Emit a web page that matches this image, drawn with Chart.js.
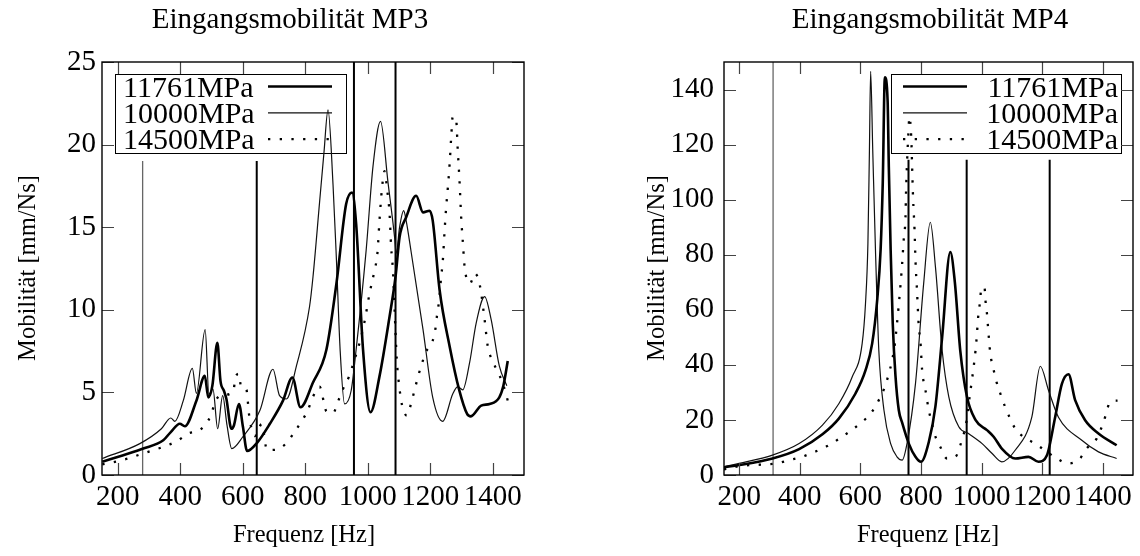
<!DOCTYPE html>
<html>
<head>
<meta charset="utf-8">
<script src="https://cdn.jsdelivr.net/npm/chart.js@4.4.0/dist/chart.umd.min.js"></script>
<style>
  html, body { margin: 0; padding: 0; background: #fff; }
  .wrap { position: relative; width: 1140px; height: 556px; }
  .panel { position: absolute; top: 0; height: 556px; }
  #mp3Box { left: 0; width: 560px; }
  #mp4Box { left: 560px; width: 580px; }
</style>
</head>
<body>
<div class="wrap">
  <div class="panel" id="mp3Box"><canvas id="mp3Chart"></canvas></div>
  <div class="panel" id="mp4Box"><canvas id="mp4Chart"></canvas></div>
</div>
<script>
// ---- data ----
const seriesLabels = ['11761MPa', '10000MPa', '14500MPa'];
const xTicks = [200, 400, 600, 800, 1000, 1200, 1400];
const mp3YTicks = [0, 5, 10, 15, 20, 25];
const mp4YTicks = [0, 20, 40, 60, 80, 100, 120, 140];

// MP3
const mp3FreqA = [151,218,282,346,370,399,415,452,479,490,503,519,529,540,548,564,572,588,601,614,646,687,729,759,785,825,868,900,931,950,963,985,1009,1038,1070,1089,1102,1123,1155,1177,1198,1208,1230,1262,1292,1318,1330,1363,1390,1421,1434,1448];
const mp3ValA  = [0.8,1.2,1.6,2.1,2.6,3.1,2.95,4.5,6.0,4.7,5.4,8.0,5.7,5.1,4.6,2.8,3.0,4.3,2.9,1.45,1.95,3.1,4.5,5.9,4.1,5.6,7.6,11.6,16.4,17.1,15.2,7.6,3.8,6.0,9.6,12.0,14.4,15.6,16.9,15.9,16.0,15.4,11.2,7.8,5.2,3.7,3.55,4.2,4.3,4.7,5.4,6.9];
const mp3FreqB = [151,271,340,370,383,410,439,452,480,492,505,520,536,550,565,600,655,697,718,740,772,814,825,846,860,873,889,900,912,926,947,963,995,1017,1041,1065,1086,1091,1102,1115,1123,1139,1177,1208,1240,1272,1288,1304,1326,1347,1374,1395,1421,1445];
const mp3ValB  = [1.0,1.9,2.8,3.45,3.25,4.5,6.45,4.94,8.8,4.9,5.2,2.8,4.8,3.0,1.6,2.3,3.9,6.4,4.8,4.6,6.6,10.2,12.0,16.5,19.5,22.1,17.6,13.0,7.5,4.3,5.1,7.6,13.6,18.7,21.4,17.7,14.4,13.4,15.0,16.0,15.4,13.5,8.8,4.7,3.25,4.9,5.35,5.15,6.8,9.2,10.8,9.4,6.6,5.4];
const mp3FreqC = [151,191,234,273,314,354,392,426,463,490,525,570,576,588,595,612,617,621,639,661,678,706,741,766,790,809,825,846,868,889,905,921,940,958,974,990,1006,1022,1031,1038,1047,1054,1062,1070,1075,1081,1086,1093,1102,1109,1125,1139,1150,1161,1172,1187,1208,1217,1222,1228,1235,1240,1246,1251,1256,1262,1267,1272,1283,1288,1294,1299,1304,1310,1328,1342,1355,1363,1374,1384,1397,1416,1432,1451];
const mp3ValC  = [0.65,0.8,1.0,1.25,1.5,1.76,2.08,2.52,2.72,3.3,4.78,5.04,5.82,6.13,5.3,5.17,4.35,3.58,2.36,3.08,1.51,1.53,1.95,2.62,3.29,3.95,4.74,5.35,3.85,3.75,4.45,5.2,5.95,7.0,8.0,9.3,11.0,12.4,13.4,15.5,17.6,18.4,17.3,15.8,13.8,12.3,10.0,7.0,5.2,4.3,3.6,4.34,5.15,5.95,6.66,7.47,8.13,8.9,9.7,10.5,12.0,12.9,14.8,16.2,17.3,18.8,20.4,21.7,21.5,19.7,17.7,15.6,14.2,12.6,11.6,12.2,11.8,11.0,9.4,7.8,7.0,6.25,5.55,4.3];
const mp3MarkerFreq = [280, 645, 956, 1089];
const mp3MarkerTop  = [19, 19, 25, 25];

// MP4
const mp4FreqA = [150,200,310,398,475,529,584,617,639,656,667,674,681,690,694,700,707,716,727,738,760,782,800,826,848,870,897,912,930,952,980,1018,1040,1067,1111,1155,1188,1216,1243,1265,1287,1309,1342,1386,1446];
const mp4ValA  = [2.8,3.6,6.0,9.4,14.8,20.5,29.6,38.0,47.7,64,82,106,144.4,136,112,82,55,36,23.5,19,11.4,6.6,4.8,12,25,50,81,70,45,28.4,20,16.3,13.9,9.6,6.0,6.6,4.8,7.2,21,33,36.6,27.2,19.9,15.1,10.8];
const mp4FreqB = [150,200,310,398,475,529,573,606,617,625,630,634,641,650,661,678,700,721,738,754,782,809,831,848,870,892,925,958,1002,1035,1067,1111,1166,1194,1221,1254,1331,1386,1446];
const mp4ValB  = [3.0,4.2,7.2,11.4,18.1,25.9,35.6,47.7,62.2,84,117.8,146.6,117.8,81.6,45.3,23.5,11.4,6.6,5.4,11.4,33.2,69.5,91.8,75.5,45.3,28.4,17.5,15.0,11.4,7.8,4.8,9.0,21,39.5,30.8,21,12.6,8.4,6.0];
const mp4FreqC = [150,198,238,279,323,365,407,449,491,532,571,606,636,661,681,694,705,714,721,733,738,743,749,751,754,758,762,768,771,774,779,782,787,793,798,804,815,826,835,846,864,886,914,930,952,958,980,985,988,996,999,1010,1013,1018,1021,1029,1038,1048,1062,1076,1092,1111,1139,1177,1216,1249,1287,1325,1347,1380,1397,1410,1424,1449];
const mp4ValC  = [2.0,3.2,3.6,3.8,4.2,5.4,6.6,8.4,10.5,13.3,16.3,19.3,22.6,27.2,32.0,36.8,41.7,47.7,55,69.5,76.7,85.2,93.6,103.3,113.0,122.7,130,122.7,111.8,100.9,88.8,78.0,67.1,53.8,49.0,38.0,30.8,23.5,19.3,14.5,10.2,6.0,6.6,10.8,20.5,26,45,51.3,56.2,64,68,68,63.4,58.6,54.4,44.1,39.2,34.4,29.6,25.3,21.1,16.9,13.8,11.4,8.4,6.0,4.2,6.0,9.6,13.2,17.5,21.7,26.5,27];
const mp4MarkerFreq = [312, 759, 951, 1225];
const mp4MarkerTop  = [150, 114.5, 114.5, 114.5];

// ---- styling ----
const FONT = "'Liberation Serif', 'Times New Roman', serif";
const TICK_SIZE = 29;
const LEGEND_SIZE = 30;
const TITLE_SIZE = 29;
const AXIS_TITLE_SIZE = 24.5;

function pairs(xs, ys) {
    return xs.map((x, i) => ({ x: x, y: ys[i] }));
}

function curveSets(fa, va, fb, vb, fc, vc) {
    return [
        { label: seriesLabels[0], data: pairs(fa, va), borderColor: '#000', borderWidth: 2.6 },
        { label: seriesLabels[1], data: pairs(fb, vb), borderColor: '#111', borderWidth: 1.2 },
        { label: seriesLabels[2], data: pairs(fc, vc), borderColor: '#000', borderWidth: 2.3, borderDash: [2.3, 9.4] }
    ];
}

function markerSets(freqs, tops) {
    return freqs.map((f, i) => ({
        data: [{ x: f, y: 0 }, { x: f, y: tops[i] }],
        borderColor: i === 0 ? '#666' : '#000',
        borderWidth: i === 0 ? 1.3 : 2,
        cubicInterpolationMode: 'default'
    }));
}

// gnuplot-like frame, inside tick marks, key box and texts
const gnuFrame = {
    id: 'gnuFrame',
    beforeDatasetsDraw(chart, args, opts) {
        const ctx = chart.ctx;
        const lg = opts.legend;
        ctx.save();
        ctx.fillStyle = '#fff';
        ctx.fillRect(lg.x, lg.y, lg.w, lg.h);
        ctx.strokeStyle = '#000';
        ctx.lineWidth = 1;
        ctx.strokeRect(lg.x + 0.5, lg.y + 0.5, lg.w, lg.h);
        ctx.font = `${LEGEND_SIZE}px ${FONT}`;
        ctx.fillStyle = '#000';
        ctx.textBaseline = 'alphabetic';
        ctx.textAlign = lg.textAlign;
        chart.data.datasets.forEach((ds, i) => {
            if (!ds.label) return;
            const rowY = lg.y + 12.5 + i * 26.3;
            ctx.fillText(ds.label, lg.textX, rowY + 10);
            ctx.beginPath();
            ctx.setLineDash(ds.borderDash || []);
            ctx.lineWidth = ds.borderWidth;
            ctx.strokeStyle = ds.borderColor;
            ctx.moveTo(lg.sampleX0, rowY);
            ctx.lineTo(lg.sampleX1, rowY);
            ctx.stroke();
        });
        ctx.restore();
    },
    afterDatasetsDraw(chart) {
        const ctx = chart.ctx;
        const a = chart.chartArea;
        const len = 12;
        ctx.save();
        ctx.strokeStyle = '#444';
        ctx.lineWidth = 1.2;
        ctx.beginPath();
        chart.scales.x.ticks.forEach(t => {
            const px = Math.round(chart.scales.x.getPixelForValue(t.value)) + 0.5;
            ctx.moveTo(px, a.bottom); ctx.lineTo(px, a.bottom - len);
            ctx.moveTo(px, a.top); ctx.lineTo(px, a.top + len);
        });
        chart.scales.y.ticks.forEach(t => {
            const py = Math.round(chart.scales.y.getPixelForValue(t.value)) + 0.5;
            ctx.moveTo(a.left, py); ctx.lineTo(a.left + len, py);
            ctx.moveTo(a.right, py); ctx.lineTo(a.right - len, py);
        });
        ctx.stroke();
        ctx.strokeStyle = '#000';
        ctx.lineWidth = 1.4;
        ctx.strokeRect(a.left, a.top, a.right - a.left, a.bottom - a.top);
        ctx.restore();
    },
    afterDraw(chart, args, opts) {
        const ctx = chart.ctx;
        ctx.save();
        ctx.fillStyle = '#000';
        ctx.textAlign = 'center';
        ctx.textBaseline = 'middle';
        ctx.font = `${TITLE_SIZE}px ${FONT}`;
        ctx.fillText(opts.title.text, opts.title.x, opts.title.y);
        ctx.font = `${AXIS_TITLE_SIZE}px ${FONT}`;
        ctx.fillText('Frequenz [Hz]', opts.xTitle.x, opts.xTitle.y);
        ctx.translate(opts.yTitle.x, opts.yTitle.y);
        ctx.rotate(-Math.PI / 2);
        ctx.fillText('Mobilität [mm/Ns]', 0, 0);
        ctx.restore();
    }
};

function makeChart(id, cfg) {
    return new Chart(document.getElementById(id), {
        type: 'scatter',
        data: { datasets: cfg.datasets },
        options: {
            responsive: true,
            maintainAspectRatio: false,
            animation: false,
            showLine: true,
            layout: { padding: { top: 62, right: cfg.padRight, left: 0, bottom: 0 } },
            elements: {
                point: { radius: 0, hoverRadius: 0 },
                line: { cubicInterpolationMode: 'monotone', borderCapStyle: 'butt', fill: false }
            },
            scales: {
                x: {
                    type: 'linear',
                    min: 150,
                    max: 1500,
                    afterBuildTicks: s => { s.ticks = xTicks.map(v => ({ value: v })); },
                    afterFit: s => { s.height = 81; },
                    grid: { display: false, drawTicks: false },
                    border: { display: false },
                    ticks: {
                        color: '#000', padding: 5, maxRotation: 0, autoSkip: false,
                        font: { family: FONT, size: TICK_SIZE },
                        callback: v => String(v)
                    }
                },
                y: {
                    min: 0,
                    max: cfg.yMax,
                    afterBuildTicks: s => { s.ticks = cfg.yTicks.map(v => ({ value: v })); },
                    afterFit: s => { s.width = cfg.yWidth; },
                    grid: { display: false, drawTicks: false },
                    border: { display: false },
                    ticks: {
                        color: '#000', padding: cfg.yPad,
                        font: { family: FONT, size: TICK_SIZE },
                        callback: v => String(v)
                    }
                }
            },
            plugins: {
                legend: { display: false },
                tooltip: { enabled: false },
                gnuFrame: cfg.frame
            }
        },
        plugins: [gnuFrame]
    });
}

makeChart('mp3Chart', {
    datasets: curveSets(mp3FreqA, mp3ValA, mp3FreqB, mp3ValB, mp3FreqC, mp3ValC)
        .concat(markerSets(mp3MarkerFreq, mp3MarkerTop)),
    yMax: 25,
    yTicks: mp3YTicks,
    yWidth: 102,
    yPad: 6,
    padRight: 36,
    frame: {
        title: { text: 'Eingangsmobilität MP3', x: 290, y: 20 },
        xTitle: { x: 304, y: 536 },
        yTitle: { x: 29, y: 268 },
        legend: { x: 115, y: 74, w: 231, h: 79, textAlign: 'left', textX: 123, sampleX0: 268, sampleX1: 332 }
    }
});

makeChart('mp4Chart', {
    datasets: curveSets(mp4FreqA, mp4ValA, mp4FreqB, mp4ValB, mp4FreqC, mp4ValC)
        .concat(markerSets(mp4MarkerFreq, mp4MarkerTop)),
    yMax: 150,
    yTicks: mp4YTicks,
    yWidth: 164,
    yPad: 10,
    padRight: 7,
    frame: {
        title: { text: 'Eingangsmobilität MP4', x: 370, y: 20 },
        xTitle: { x: 368, y: 536 },
        yTitle: { x: 98, y: 268 },
        legend: { x: 331, y: 74, w: 230, h: 79, textAlign: 'right', textX: 558, sampleX0: 343, sampleX1: 407 }
    }
});
</script>
</body>
</html>
